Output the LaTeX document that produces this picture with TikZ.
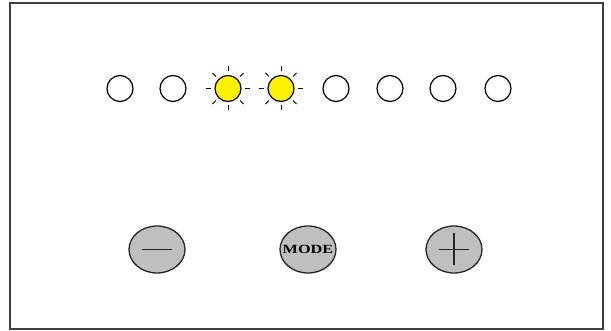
\documentclass[tikz,border=0pt]{standalone}
\usepackage{fontspec}
\setmainfont{Liberation Serif}
\usetikzlibrary{calc,shapes.geometric}
\begin{document}
\begin{tikzpicture}[x=1pt,y=-1pt,
  led/.style={circle,draw=black,line width=1.2pt,minimum size=26pt,inner sep=0pt,fill=white},
  ledon/.style={led,fill=yellow},
  ray/.style={line width=0.9pt,black},
  btn/.style={ellipse,draw=black!85,line width=1.3pt,fill=black!25,minimum width=56pt,minimum height=47pt,inner sep=0pt},
  sym/.style={line width=1.2pt,black!85}]
\useasboundingbox (0,0) rectangle (611,331);
\draw[line width=2pt,black!75] (10,3) rectangle (603,329);
\node[led] (l1) at (120,88.5) {};
\node[led] (l2) at (173,88.5) {};
\node[ledon] (l3) at (228,88.5) {};
\node[ledon] (l4) at (281,88.5) {};
\node[led] (l5) at (336,88.5) {};
\node[led] (l6) at (390,88.5) {};
\node[led] (l7) at (443,88.5) {};
\node[led] (l8) at (498,88.5) {};
\foreach \n in {l3,l4}{
  \foreach \a in {0,45,...,315}{
    \draw[ray] ($(\n)+(\a:17)$) -- ($(\n)+(\a:22)$);
  }
}
\node[btn] (minus) at (157,249.5) {};
\node[btn] (mode) at (308,249.5) {};
\node[inner sep=0pt] (modetxt) at (mode) {\fontsize{12.5}{12.5}\selectfont\bfseries\scalebox{1.3}[1]{MODE}};
\node[btn] (plus) at (454,249.5) {};
\draw[sym] ($(minus)+(-15,0)$) -- ($(minus)+(15,0)$);
\draw[sym] ($(plus)+(-15,0)$) -- ($(plus)+(15,0)$);
\draw[sym] ($(plus)+(0,-16)$) -- ($(plus)+(0,16)$);
\end{tikzpicture}
\end{document}
